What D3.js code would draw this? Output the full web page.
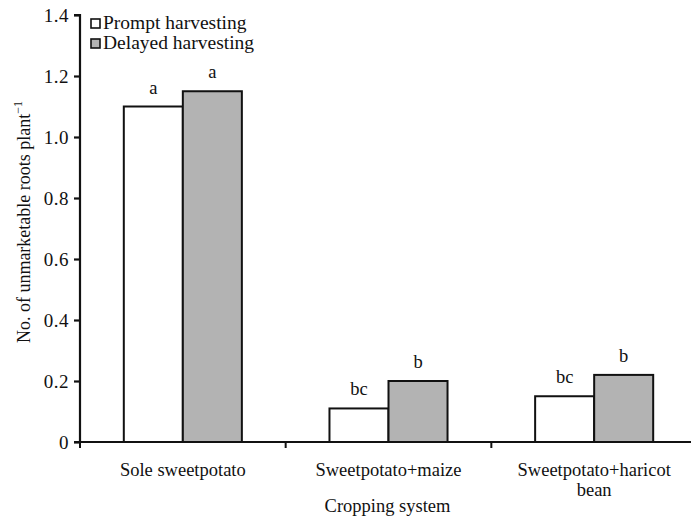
<!DOCTYPE html>
<html>
<head>
<meta charset="utf-8">
<script src="https://cdn.jsdelivr.net/npm/d3@7"></script>
<style>
  html, body { margin: 0; padding: 0; background: #fff; }
  svg text { font-family: "Liberation Serif", "Times New Roman", serif; fill: #111; }
</style>
</head>
<body>
<svg id="chart" width="691" height="521"></svg>
<script>
// Cropping systems on the x axis
const categories = ["Sole sweetpotato", "Sweetpotato+maize", "Sweetpotato+haricot bean"];
const categoryLines = [["Sole sweetpotato"], ["Sweetpotato+maize"], ["Sweetpotato+haricot", "bean"]];
// Harvesting treatments
const seriesNames = ["Prompt harvesting", "Delayed harvesting"];
const seriesFill = ["#ffffff", "#b3b3b3"];
// Mean number of unmarketable roots per plant
const promptValues = [1.10, 0.11, 0.15];
const delayedValues = [1.15, 0.20, 0.22];
// Mean separation letters
const promptLetters = ["a", "bc", "bc"];
const delayedLetters = ["a", "b", "b"];
const yTicks = [0, 0.2, 0.4, 0.6, 0.8, 1.0, 1.2, 1.4];

const svg = d3.select("#chart");
const plotL = 80, plotR = 697, plotT = 15, plotB = 442;
const FONT = "Liberation Serif";

const x = d3.scaleBand().domain(categories).range([plotL, plotR]).padding(0);
const groupW = x.bandwidth() * 0.574;
const xs = d3.scaleBand().domain(seriesNames)
  .range([(x.bandwidth() - groupW) / 2, (x.bandwidth() + groupW) / 2]).padding(0);
const y = d3.scaleLinear().domain([0, 1.4]).range([plotB, plotT]);

const rows = categories.map((c, i) => ({
  cat: c,
  vals: [
    { s: seriesNames[0], v: promptValues[i], l: promptLetters[i], f: seriesFill[0] },
    { s: seriesNames[1], v: delayedValues[i], l: delayedLetters[i], f: seriesFill[1] }
  ]
}));

// Bars
const g = svg.append("g").selectAll("g").data(rows).join("g")
  .attr("transform", d => `translate(${x(d.cat)},0)`);
g.selectAll("rect").data(d => d.vals).join("rect")
  .attr("x", d => xs(d.s))
  .attr("y", d => y(d.v))
  .attr("width", xs.bandwidth())
  .attr("height", d => y(0) - y(d.v))
  .attr("fill", d => d.f)
  .attr("stroke", "#111")
  .attr("stroke-width", 2);
g.selectAll("text").data(d => d.vals).join("text")
  .attr("x", d => xs(d.s) + xs.bandwidth() / 2)
  .attr("y", d => y(d.v) - 13)
  .attr("text-anchor", "middle")
  .attr("font-size", 18.5)
  .text(d => d.l);

// Y axis
const yAxis = svg.append("g").attr("transform", `translate(${plotL},0)`)
  .call(d3.axisLeft(y).tickValues(yTicks).tickSize(6).tickPadding(5)
    .tickFormat(d => d === 0 ? "0" : d3.format(".1f")(d)));
yAxis.select(".domain").attr("stroke", "#111").attr("stroke-width", 2.2)
  .attr("d", `M-6,${plotT}H0V${plotB}`);
yAxis.selectAll(".tick line").attr("stroke", "#111").attr("stroke-width", 2.2);
yAxis.selectAll(".tick text").attr("font-size", 19).attr("font-family", FONT)
  .attr("fill", "#111").attr("letter-spacing", 0.5).attr("dy", "0.34em");

// X axis with ticks at category boundaries
svg.append("line").attr("x1", plotL - 6).attr("x2", 691)
  .attr("y1", plotB).attr("y2", plotB)
  .attr("stroke", "#111").attr("stroke-width", 2.2);
svg.append("g").selectAll("line").data(categories).join("line")
  .attr("x1", d => x(d)).attr("x2", d => x(d))
  .attr("y1", plotB).attr("y2", plotB + 6)
  .attr("stroke", "#111").attr("stroke-width", 2);

// Category labels
const cl = svg.append("g").selectAll("text").data(categories).join("text")
  .attr("x", d => x(d) + x.bandwidth() / 2)
  .attr("y", 476)
  .attr("text-anchor", "middle")
  .attr("font-size", 18.5);
cl.selectAll("tspan").data((d, i) => categoryLines[i]).join("tspan")
  .attr("x", function() { return this.parentNode.getAttribute("x"); })
  .attr("dy", (d, i) => i === 0 ? 0 : 20)
  .text(d => d);

// Axis titles
svg.append("text").attr("x", (plotL + plotR) / 2 - 1).attr("y", 512)
  .attr("text-anchor", "middle").attr("font-size", 18.5).text("Cropping system");
const yt = svg.append("text")
  .attr("transform", "translate(30,222) rotate(-90)")
  .attr("text-anchor", "middle").attr("font-size", 18);
yt.append("tspan").text("No. of unmarketable roots plant");
yt.append("tspan").attr("dy", -8).attr("font-size", 12).text("−1");

// Legend
const lg = svg.append("g").selectAll("g").data(seriesNames).join("g")
  .attr("transform", (d, i) => `translate(91,${19 + i * 20})`);
lg.append("rect").attr("width", 9).attr("height", 9)
  .attr("fill", (d, i) => seriesFill[i]).attr("stroke", "#111").attr("stroke-width", 1.6);
lg.append("text").attr("x", 12).attr("y", 9.5).attr("font-size", 19.5).text(d => d);
</script>
</body>
</html>
